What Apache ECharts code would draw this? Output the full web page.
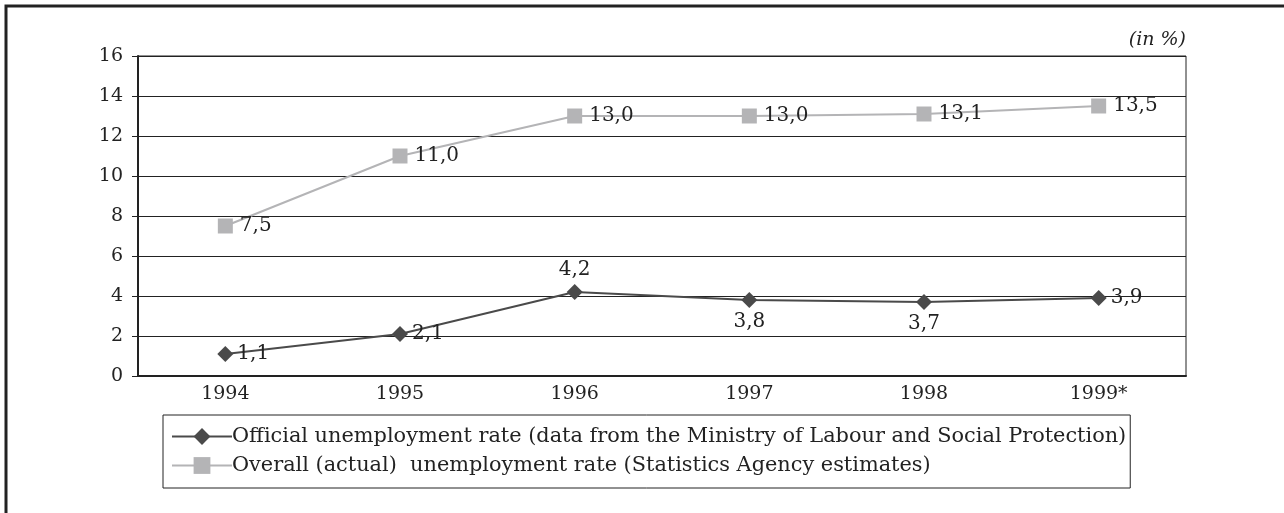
<!DOCTYPE html>
<html>
<head>
<meta charset="utf-8">
<script src="https://cdn.jsdelivr.net/npm/echarts@6/dist/echarts.min.js"></script>
<style>
  html, body { margin: 0; padding: 0; background: #fff; }
  #chart { width: 1284px; height: 513px; }
</style>
</head>
<body>
<div id="chart"></div>
<script>
// data
const years = ['1994', '1995', '1996', '1997', '1998', '1999*'];
const officialRate = [1.1, 2.1, 4.2, 3.8, 3.7, 3.9];
const overallRate = [7.5, 11.0, 13.0, 13.0, 13.1, 13.5];
const officialLabelPos = ['right', 'right', 'top', 'bottom', 'bottom', 'right'];

const officialName = 'Official unemployment rate (data from the Ministry of Labour and Social Protection)';
const overallName = 'Overall (actual)  unemployment rate (Statistics Agency estimates)';

const FONT = 'DejaVu Serif';
const fmt = v => v.toFixed(1).replace('.', ',');

const chart = echarts.init(document.getElementById('chart'), null, { renderer: 'canvas' });

chart.setOption({
  animation: false,
  textStyle: { fontFamily: FONT },
  grid: {
    left: 138, top: 56, right: 98, bottom: 137,
    show: true, borderColor: '#222', borderWidth: 1
  },
  graphic: [
    {
      type: 'rect',
      shape: { x: 6, y: 6, width: 1400, height: 700 },
      style: { fill: 'none', stroke: '#222', lineWidth: 3 }
    },
    {
      type: 'text',
      right: 98, top: 31,
      style: { text: '(in %)', font: 'italic 19px "DejaVu Serif"', fill: '#222', textAlign: 'right' }
    }
  ],
  legend: {
    orient: 'vertical',
    left: 163, top: 415,
    padding: [11, 4, 12, 8],
    itemGap: 8,
    itemWidth: 60,
    itemHeight: 21,
    borderColor: '#222',
    borderWidth: 1,
    textStyle: { fontFamily: FONT, fontSize: 20.85, color: '#222', padding: [0, 0, 0, -5] },
    data: [officialName, overallName]
  },
  xAxis: {
    type: 'category',
    data: years,
    boundaryGap: true,
    axisLine: { lineStyle: { color: '#222', width: 2 } },
    axisTick: { length: 6, lineStyle: { color: '#222', width: 1 } },
    axisLabel: { color: '#222', fontSize: 19, margin: 9, fontFamily: FONT }
  },
  yAxis: {
    type: 'value',
    min: 0, max: 16, interval: 2,
    axisLine: { show: true, lineStyle: { color: '#222', width: 2 } },
    axisTick: { show: true, length: 6, lineStyle: { color: '#222' } },
    axisLabel: { color: '#222', fontSize: 19, margin: 15, fontFamily: FONT },
    splitLine: { lineStyle: { color: '#222', width: 1 } }
  },
  series: [
    {
      name: officialName,
      type: 'line',
      data: officialRate.map((v, i) => ({
        value: v,
        label: { position: officialLabelPos[i] }
      })),
      symbol: 'diamond',
      symbolSize: 16,
      lineStyle: { color: '#4a4a4a', width: 2 },
      itemStyle: { color: '#4a4a4a' },
      label: {
        show: true, fontSize: 20, color: '#222', fontFamily: FONT, distance: 4,
        formatter: p => fmt(p.value)
      },
      z: 3
    },
    {
      name: overallName,
      type: 'line',
      data: overallRate,
      symbol: 'rect',
      symbolSize: 15,
      lineStyle: { color: '#b4b4b6', width: 2 },
      itemStyle: { color: '#b4b4b6' },
      label: {
        show: true, position: 'right', fontSize: 20, color: '#222', fontFamily: FONT, distance: 7,
        formatter: p => fmt(p.value)
      },
      z: 2
    }
  ]
});
</script>
</body>
</html>
